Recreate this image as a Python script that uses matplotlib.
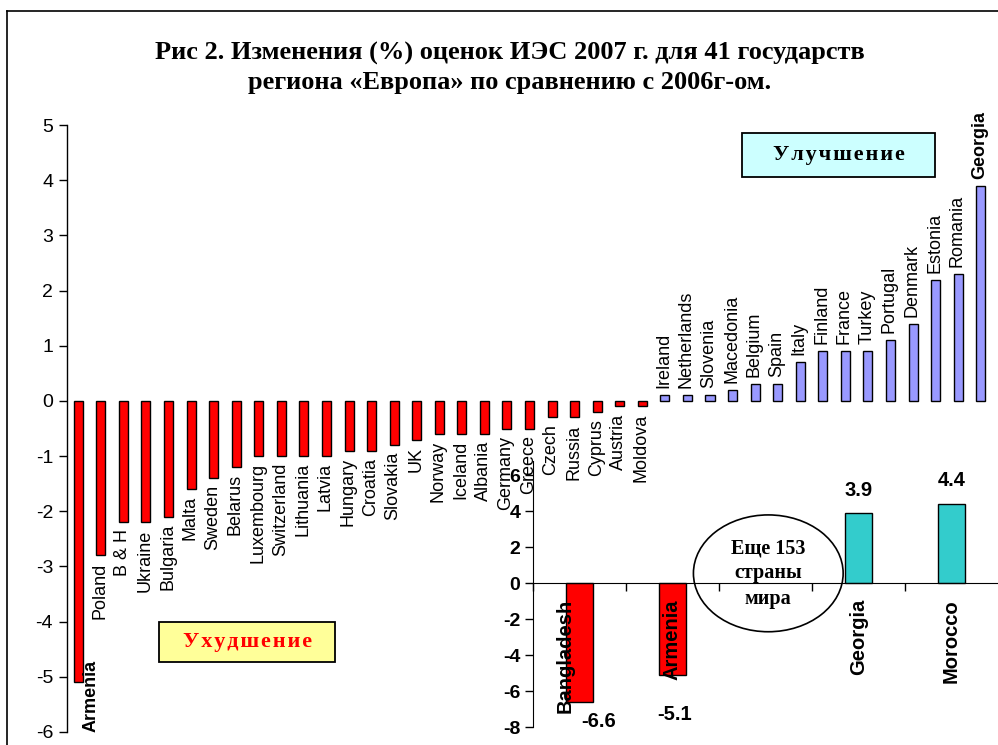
import matplotlib
matplotlib.use("Agg")
import matplotlib.pyplot as plt
from matplotlib.patches import Rectangle, Ellipse
from matplotlib.lines import Line2D
import numpy as np

plt.rcParams["axes.unicode_minus"] = False

# main chart data: change (%) 2007 vs 2006, 41 countries of Europe
countries = ["Armenia", "Poland", "B & H", "Ukraine", "Bulgaria", "Malta", "Sweden",
             "Belarus", "Luxembourg", "Switzerland", "Lithuania", "Latvia", "Hungary",
             "Croatia", "Slovakia", "UK", "Norway", "Iceland", "Albania", "Germany",
             "Greece", "Czech", "Russia", "Cyprus", "Austria", "Moldova",
             "Ireland", "Netherlands", "Slovenia", "Macedonia", "Belgium", "Spain",
             "Italy", "Finland", "France", "Turkey", "Portugal", "Denmark", "Estonia",
             "Romania", "Georgia"]
changes = [-5.1, -2.8, -2.2, -2.2, -2.1, -1.6, -1.4, -1.2, -1.0, -1.0, -1.0, -1.0, -0.9,
           -0.9, -0.8, -0.7, -0.6, -0.6, -0.6, -0.5, -0.5, -0.3, -0.3, -0.2, -0.1, -0.1,
           0.1, 0.1, 0.1, 0.2, 0.3, 0.3, 0.7, 0.9, 0.9, 0.9, 1.1, 1.4, 2.2, 2.3, 3.9]
bold_names = ["Armenia", "Georgia"]

# inset: world extremes
inset_names = ["Bangladesh", "Armenia", "", "Georgia", "Morocco"]
inset_values = [-6.6, -5.1, np.nan, 3.9, 4.4]
inset_labels = ["-6.6", "-5.1", "", "3.9", "4.4"]

title = "Рис 2. Изменения (%) оценок ИЭС 2007 г. для 41 государств\nрегиона «Европа» по сравнению с 2006г-ом."

fig = plt.figure(figsize=(9.98, 7.45), dpi=100)
W, H = 998.0, 745.0

def fx(px):
    return px / W

def fy(py):
    return 1 - py / H

# frame around the figure (left and top only visible)
fig.add_artist(Line2D([fx(7), fx(7)], [fy(11), 0], color="black", lw=1.2))
fig.add_artist(Line2D([fx(7), 1], [fy(11), fy(11)], color="black", lw=1.2))

fig.text(0.511, fy(68), title, ha="center", va="center", fontsize=19, weight="bold",
         family="Liberation Serif", linespacing=1.38)

# ---- main axes
ax = fig.add_axes([fx(67), fy(732), fx(992) - fx(67), fy(125) - fy(732)])
ax.patch.set_alpha(0)
x = np.arange(len(countries))
vals = np.array(changes)
cols = ["#FF0000" if v < 0 else "#9999FF" for v in vals]
ax.bar(x, vals, width=0.4, color=cols, edgecolor="black", linewidth=1.0, zorder=2)
ax.set_xlim(-0.5, len(countries) - 0.5)
ax.set_ylim(-6, 5)
ax.set_yticks(range(-6, 6))
ax.tick_params(axis="y", direction="out", length=6, width=1, labelsize=14, pad=4)
ax.set_xticks([])
for s in ["top", "right", "bottom"]:
    ax.spines[s].set_visible(False)
ax.spines["left"].set_linewidth(1)
for lab in ax.get_yticklabels():
    lab.set_family("Liberation Sans")

for i, (name, v) in enumerate(zip(countries, vals)):
    w = "bold" if name in bold_names else "normal"
    if i == 0:
        # label beside the longest bar
        ax.annotate(name, xy=(i, -6), xytext=(13, 0), textcoords="offset pixels",
                    rotation=90, ha="center", va="bottom", fontsize=13, weight=w,
                    family="Liberation Sans", annotation_clip=False)
    elif v < 0:
        ax.annotate(name, xy=(i, v), xytext=(-1, -7), textcoords="offset pixels",
                    rotation=90, ha="center", va="top", fontsize=13, weight=w,
                    family="Liberation Sans", annotation_clip=False)
    else:
        ax.annotate(name, xy=(i, v), xytext=(-1, 7), textcoords="offset pixels",
                    rotation=90, ha="center", va="bottom", fontsize=13, weight=w,
                    family="Liberation Sans", annotation_clip=False)

# legend-like boxes
hs = "\u200a"
fig.add_artist(Rectangle((fx(742), fy(177)), fx(935) - fx(742), fy(133) - fy(177),
                         transform=fig.transFigure, facecolor="#CCFFFF",
                         edgecolor="black", lw=1.3))
fig.text(fx(839), fy(155), hs.join("Улучшение"),
         ha="center", va="center", fontsize=16, weight="bold",
         family=["Liberation Serif", "DejaVu Serif"])
fig.add_artist(Rectangle((fx(159), fy(662)), fx(335) - fx(159), fy(622) - fy(662),
                         transform=fig.transFigure, facecolor="#FFFF99",
                         edgecolor="black", lw=1.3))
fig.text(fx(248), fy(642), hs.join("Ухудшение"),
         ha="center", va="center", fontsize=16, weight="bold", color="#FF0000",
         family=["Liberation Serif", "DejaVu Serif"])

# ---- inset axes
ia = fig.add_axes([fx(533), fy(727), 1 - fx(533), fy(461) - fy(727)])
ia.patch.set_alpha(0)
xi = np.arange(len(inset_names))
ivals = np.array(inset_values)
icols = ["#FF0000" if v < 0 else "#33CCCC" for v in np.nan_to_num(ivals)]
ia.bar(xi, ivals, width=0.28, color=icols, edgecolor="black", linewidth=1.0, zorder=2)
ia.set_xlim(-0.5, len(inset_names) - 0.5)
ia.set_ylim(-8, 6.8)
ia.set_yticks(range(-8, 7, 2))
ia.spines["top"].set_visible(False)
ia.spines["right"].set_visible(False)
ia.spines["bottom"].set_position(("data", 0))
ia.set_xticks(np.arange(-0.5, len(inset_names) - 0.5, 1.0))
ia.set_xticklabels([])
ia.tick_params(axis="x", direction="out", length=6, width=1)
ia.tick_params(axis="y", direction="out", length=6, width=1, labelsize=14, pad=3)
for lab in ia.get_yticklabels():
    lab.set_family("Liberation Sans")
    lab.set_weight("bold")

name_dx = [-14, 0, 0, 0, 0]
val_off = [(19, -20), (2, -40), (0, 0), (0, 23), (0, 24)]
for i, (name, v, vl) in enumerate(zip(inset_names, ivals, inset_labels)):
    if not name:
        continue
    ia.annotate(name, xy=(i, 0), xytext=(name_dx[i], -16), textcoords="offset pixels",
                rotation=90, ha="center", va="top", fontsize=14.5, weight="bold",
                family="Liberation Sans", annotation_clip=False)
    ia.annotate(vl, xy=(i, v), xytext=val_off[i], textcoords="offset pixels",
                ha="center", va="center", fontsize=14.5, weight="bold",
                family="Liberation Sans", annotation_clip=False)

ia.add_patch(Ellipse((2.03, 0.55), 1.61, 6.5, facecolor="none", edgecolor="black",
                     lw=1.2, zorder=3))
ia.text(2.03, 0.55, "Еще 153\nстраны\nмира", ha="center", va="center", fontsize=14.5,
        weight="bold", family="Liberation Serif", linespacing=1.35)

fig.savefig("out.png", dpi=100)
